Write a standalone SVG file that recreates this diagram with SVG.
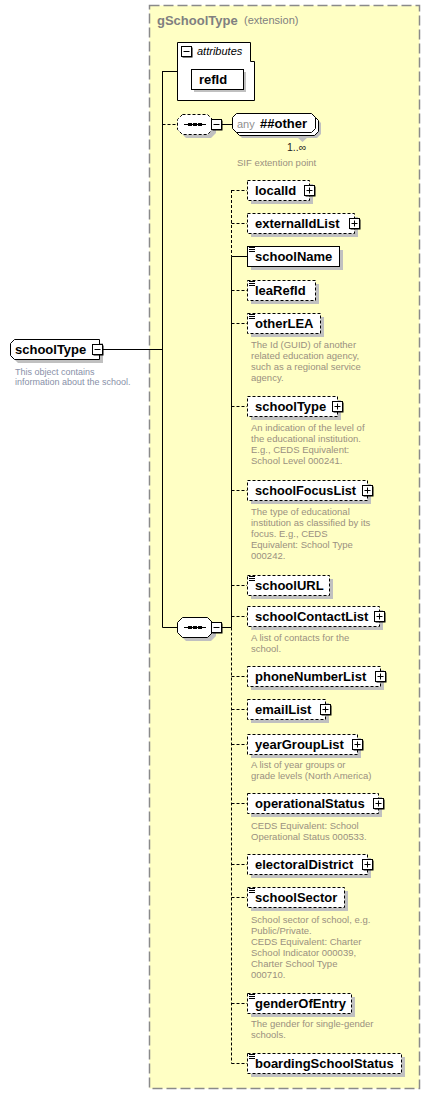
<svg xmlns="http://www.w3.org/2000/svg" xmlns:xlink="http://www.w3.org/1999/xlink" width="430" height="1095" viewBox="0 0 430 1095">
<style>
.el{fill:#fff;stroke:#000;stroke-width:1}
.opt{stroke-dasharray:3,2}
.sh{fill:#c0c0c0;stroke:none}
.nm{font-family:"Liberation Sans",Arial,sans-serif;font-weight:bold;font-size:13px;fill:#000}
.ds{font-family:"Liberation Sans",Arial,sans-serif;font-size:9.5px;fill:#9a9080}
.dl{font-family:"Liberation Sans",Arial,sans-serif;font-size:9px;fill:#8890a8}
.cn{stroke:#000;stroke-width:1;fill:none}
.cd{stroke-dasharray:3,2}
</style>
<defs>
<g id="plus"><rect x="-4.5" y="-4.5" width="10" height="10" fill="#000"/><rect x="-5.5" y="-5.5" width="10" height="10" fill="#fff" stroke="#000"/><path d="M-3.5,-0.5H2.5M-0.5,-3.5V2.5" stroke="#000"/></g>
<g id="minus"><rect x="-4.5" y="-4.5" width="10" height="10" fill="#000"/><rect x="-5.5" y="-5.5" width="10" height="10" fill="#fff" stroke="#000"/><path d="M-3.5,-0.5H2.5" stroke="#000"/></g>
<path id="ic" d="M2,1.5H8M2,3.5H8M2,5.5H8" stroke="#000" stroke-width="1" fill="none"/>
<g id="seqdots"><path d="M184,0H206" stroke="#000"/><rect x="188" y="-1.5" width="4" height="3" fill="#000"/><rect x="193" y="-1.5" width="4" height="3" fill="#000"/><rect x="198" y="-1.5" width="4" height="3" fill="#000"/></g>
</defs>

<g id="gSchoolType">
<rect x="149.5" y="5.5" width="270" height="1083" fill="#ffffc4" stroke="#8a8a8a" stroke-width="1.5" stroke-dasharray="10,4"/>
<text x="157" y="25" font-family="Liberation Sans,Arial,sans-serif" font-weight="bold" font-size="13" fill="#808080">gSchoolType</text>
<text x="244" y="24" font-family="Liberation Sans,Arial,sans-serif" font-size="11" fill="#808080">(extension)</text>
</g>

<g id="connectors">
<path class="cn" d="M103,349.5H162.5M162.5,71V627.5M162.5,71.5H177M162.5,627.5H177M222,627.5H231.5"/>
<path class="cn cd" d="M162.5,124.5H177"/>
<path class="cn" d="M222,124.5H232"/>
<path class="cn cd" d="M231.5,190V256.5"/>
<path class="cn" d="M231.5,256.5V627.5"/>
<path class="cn cd" d="M231.5,627.5V1063.5"/>
<path class="cn cd" d="M231.5,190.5H247M231.5,223.5H247M231.5,290.5H247M231.5,323.5H247M231.5,406.5H247M231.5,490.5H247M231.5,585.5H247M231.5,616.5H247M231.5,676.5H247M231.5,709.5H247M231.5,744.5H247M231.5,803.5H247M231.5,864.5H247M231.5,897.5H247M231.5,1003.5H247M231.5,1063.5H247"/>
<path class="cn" d="M231.5,256.5H247"/>
</g>

<g id="schoolType-root">
<path class="sh" d="M18,343H103V363H18L14,359V347Z"/>
<path class="el" d="M14.5,339.5H99.5V359.5H14.5L10.5,355.5V343.5Z"/>
<text class="nm" x="15" y="354">schoolType</text>
<use xlink:href="#minus" x="98" y="350"/>
<text class="dl" x="15" y="375">This object contains</text>
<text class="dl" x="15" y="385">information about the school.</text>
</g>

<g id="attributes">
<path class="el" d="M177.5,42.5H250.5V61.5H254.5V100.5H177.5Z"/>
<use xlink:href="#minus" x="187" y="52"/>
<text x="197" y="55" font-family="Liberation Sans,Arial,sans-serif" font-style="italic" font-size="11" fill="#000">attributes</text>
<rect class="sh" x="194" y="72" width="52" height="20"/>
<rect class="el" x="191.5" y="69.5" width="52" height="20"/>
<text class="nm" x="199" y="84">refId</text>
</g>

<g id="anySequence">
<path class="sh" d="M186,118H211L216,123V133L211,138H186L181,133V123Z"/>
<path class="el opt" d="M182.5,114.5H207.5L212.5,119.5V129.5L207.5,134.5H182.5L177.5,129.5V119.5Z"/>
<use xlink:href="#seqdots" x="0" y="124.5"/>
<use xlink:href="#minus" x="217" y="125"/>
</g>

<g id="anyOther">
<path class="sh" d="M242,119H317L321,123V134L317,138H242L238,134V123Z"/>
<path class="sh" d="M297,137H308L302.5,142Z"/>
<path class="el" d="M239.5,116.5H314.5L318.5,120.5V131.5L314.5,135.5H239.5L235.5,131.5V120.5Z"/>
<path class="el" d="M236.5,113.5H311.5L315.5,117.5V128.5L311.5,132.5H236.5L232.5,128.5V117.5Z"/>
<text x="237" y="128" font-family="Liberation Sans,Arial,sans-serif" font-size="11" fill="#909090">any</text>
<text class="nm" x="260" y="128">##other</text>
<text x="287" y="151" font-family="Liberation Sans,Arial,sans-serif" font-size="10.5" fill="#222">1..∞</text>
<text class="ds" x="237" y="166">SIF extention point</text>
</g>

<g id="sequence">
<path class="sh" d="M186,621H211L216,626V636L211,641H186L181,636V626Z"/>
<path class="el" d="M182.5,617.5H207.5L212.5,622.5V632.5L207.5,637.5H182.5L177.5,632.5V622.5Z"/>
<use xlink:href="#seqdots" x="0" y="627.5"/>
<use xlink:href="#minus" x="217" y="628"/>
</g>

<g id="localId">
<rect class="sh" x="251" y="184" width="62" height="20"/>
<rect class="el opt" x="247.5" y="180.5" width="62" height="20"/>
<text class="nm" x="255" y="195">localId</text>
<use xlink:href="#plus" x="310" y="191"/>
</g>

<g id="externalIdList">
<rect class="sh" x="251" y="217" width="107" height="20"/>
<rect class="el opt" x="247.5" y="213.5" width="107" height="20"/>
<text class="nm" x="255" y="228">externalIdList</text>
<use xlink:href="#plus" x="355" y="224"/>
</g>

<g id="schoolName">
<rect class="sh" x="251" y="250" width="92" height="20"/>
<rect class="el" x="247.5" y="246.5" width="92" height="20"/>
<use xlink:href="#ic" x="247" y="246"/>
<text class="nm" x="255" y="261">schoolName</text>
</g>

<g id="leaRefId">
<rect class="sh" x="251" y="284" width="68" height="20"/>
<rect class="el opt" x="247.5" y="280.5" width="68" height="20"/>
<use xlink:href="#ic" x="247" y="280"/>
<text class="nm" x="255" y="295">leaRefId</text>
</g>

<g id="otherLEA">
<rect class="sh" x="251" y="317" width="73" height="20"/>
<rect class="el opt" x="247.5" y="313.5" width="73" height="20"/>
<use xlink:href="#ic" x="247" y="313"/>
<text class="nm" x="255" y="328">otherLEA</text>
<text class="ds" x="251" y="348">The Id (GUID) of another</text>
<text class="ds" x="251" y="359">related education agency,</text>
<text class="ds" x="251" y="370">such as a regional service</text>
<text class="ds" x="251" y="381">agency.</text>
</g>

<g id="schoolType">
<rect class="sh" x="251" y="400" width="90" height="20"/>
<rect class="el opt" x="247.5" y="396.5" width="90" height="20"/>
<text class="nm" x="255" y="411">schoolType</text>
<use xlink:href="#plus" x="338" y="407"/>
<text class="ds" x="251" y="431">An indication of the level of</text>
<text class="ds" x="251" y="442">the educational institution.</text>
<text class="ds" x="251" y="453">E.g., CEDS Equivalent:</text>
<text class="ds" x="251" y="464">School Level 000241.</text>
</g>

<g id="schoolFocusList">
<rect class="sh" x="251" y="484" width="120" height="20"/>
<rect class="el opt" x="247.5" y="480.5" width="120" height="20"/>
<text class="nm" x="255" y="495" textLength="101" lengthAdjust="spacingAndGlyphs">schoolFocusList</text>
<use xlink:href="#plus" x="368" y="491"/>
<text class="ds" x="251" y="515">The type of educational</text>
<text class="ds" x="251" y="526">institution as classified by its</text>
<text class="ds" x="251" y="537">focus. E.g., CEDS</text>
<text class="ds" x="251" y="548">Equivalent: School Type</text>
<text class="ds" x="251" y="559">000242.</text>
</g>

<g id="schoolURL">
<rect class="sh" x="251" y="579" width="82" height="20"/>
<rect class="el opt" x="247.5" y="575.5" width="82" height="20"/>
<use xlink:href="#ic" x="247" y="575"/>
<text class="nm" x="255" y="590">schoolURL</text>
</g>

<g id="schoolContactList">
<rect class="sh" x="251" y="610" width="132" height="20"/>
<rect class="el opt" x="247.5" y="606.5" width="132" height="20"/>
<text class="nm" x="255" y="621">schoolContactList</text>
<use xlink:href="#plus" x="380" y="617"/>
<text class="ds" x="251" y="641">A list of contacts for the</text>
<text class="ds" x="251" y="652">school.</text>
</g>

<g id="phoneNumberList">
<rect class="sh" x="251" y="670" width="133" height="20"/>
<rect class="el opt" x="247.5" y="666.5" width="133" height="20"/>
<text class="nm" x="255" y="681">phoneNumberList</text>
<use xlink:href="#plus" x="381" y="677"/>
</g>

<g id="emailList">
<rect class="sh" x="251" y="703" width="78" height="20"/>
<rect class="el opt" x="247.5" y="699.5" width="78" height="20"/>
<text class="nm" x="255" y="714">emailList</text>
<use xlink:href="#plus" x="326" y="710"/>
</g>

<g id="yearGroupList">
<rect class="sh" x="251" y="738" width="110" height="20"/>
<rect class="el opt" x="247.5" y="734.5" width="110" height="20"/>
<text class="nm" x="255" y="749">yearGroupList</text>
<use xlink:href="#plus" x="358" y="745"/>
<text class="ds" x="251" y="768">A list of year groups or</text>
<text class="ds" x="251" y="779">grade levels (North America)</text>
</g>

<g id="operationalStatus">
<rect class="sh" x="251" y="797" width="131" height="20"/>
<rect class="el opt" x="247.5" y="793.5" width="131" height="20"/>
<text class="nm" x="255" y="808">operationalStatus</text>
<use xlink:href="#plus" x="379" y="804"/>
<text class="ds" x="251" y="829">CEDS Equivalent: School</text>
<text class="ds" x="251" y="840">Operational Status 000533.</text>
</g>

<g id="electoralDistrict">
<rect class="sh" x="251" y="858" width="120" height="20"/>
<rect class="el opt" x="247.5" y="854.5" width="120" height="20"/>
<text class="nm" x="255" y="869">electoralDistrict</text>
<use xlink:href="#plus" x="368" y="865"/>
</g>

<g id="schoolSector">
<rect class="sh" x="251" y="891" width="97" height="20"/>
<rect class="el opt" x="247.5" y="887.5" width="97" height="20"/>
<use xlink:href="#ic" x="247" y="887"/>
<text class="nm" x="255" y="902">schoolSector</text>
<text class="ds" x="251" y="923">School sector of school, e.g.</text>
<text class="ds" x="251" y="934">Public/Private.</text>
<text class="ds" x="251" y="945">CEDS Equivalent: Charter</text>
<text class="ds" x="251" y="956">School Indicator 000039,</text>
<text class="ds" x="251" y="967">Charter School Type</text>
<text class="ds" x="251" y="978">000710.</text>
</g>

<g id="genderOfEntry">
<rect class="sh" x="251" y="997" width="104" height="20"/>
<rect class="el opt" x="247.5" y="993.5" width="104" height="20"/>
<use xlink:href="#ic" x="247" y="993"/>
<text class="nm" x="255" y="1008">genderOfEntry</text>
<text class="ds" x="251" y="1027">The gender for single-gender</text>
<text class="ds" x="251" y="1038">schools.</text>
</g>

<g id="boardingSchoolStatus">
<rect class="sh" x="251" y="1057" width="154" height="20"/>
<rect class="el opt" x="247.5" y="1053.5" width="154" height="20"/>
<use xlink:href="#ic" x="247" y="1053"/>
<text class="nm" x="255" y="1068">boardingSchoolStatus</text>
</g>
</svg>
